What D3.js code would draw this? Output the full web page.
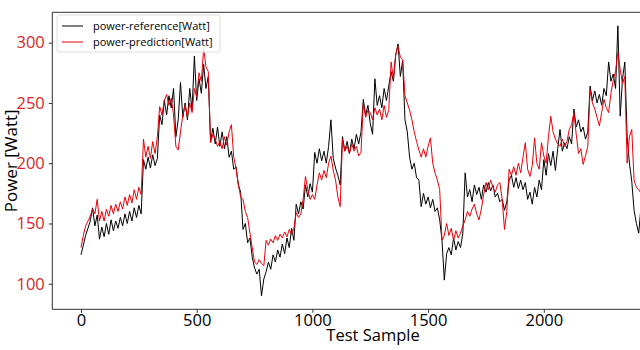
<!DOCTYPE html>
<html>
<head>
<meta charset="utf-8">
<script src="https://cdn.jsdelivr.net/npm/d3@7/dist/d3.min.js"></script>
<style>
  html, body { margin: 0; padding: 0; background: #fff; overflow: hidden; }
  svg { display: block; }
</style>
</head>
<body>
<svg id="chart" width="640" height="350"></svg>
<script>
// Sample index of each stored point (every 10th test sample)
const sampleStep = 10;
const sampleCount = 2481;

// Measured power (reference), Watt
const reference = [
  124,132,140,146,152,163,148,157,137,147,139,150,141,153,144,152,146,155,148,158,
  150,160,152,163,155,165,158,203,195,205,196,207,198,204,240,232,252,240,256,246,
  262,222,236,267,238,250,236,262,244,289,252,270,258,282,262,272,218,229,216,230,
  214,226,212,222,205,210,195,197,182,176,145,150,134,138,122,113,108,112,90,104,
  110,118,112,124,118,128,122,133,125,138,130,146,136,166,158,168,162,182,172,183,
  176,209,200,212,202,210,200,214,236,204,196,190,182,222,210,218,208,220,212,224,
  216,226,253,240,248,233,224,270,248,256,246,262,252,264,276,268,290,299,272,285,
  236,226,205,195,200,188,186,164,175,166,172,163,170,160,163,153,136,103,125,130,
  124,138,128,135,130,142,192,172,178,168,182,174,180,170,182,176,184,177,182,172,
  175,168,170,161,168,186,190,180,188,179,186,178,184,170,176,166,180,172,186,178,
  203,190,208,198,210,194,212,228,210,217,212,222,216,245,230,236,226,230,220,226,
  264,252,260,250,257,248,262,256,284,268,274,262,314,239,270,284,222,200,185,161,
  150,142,164,158,168,160,170,164,168
];

// Model output (prediction), Watt
const prediction = [
  130,140,148,152,156,162,158,170,152,160,152,162,156,165,158,166,160,168,162,172,
  165,174,167,178,170,180,174,220,205,214,204,218,208,222,247,240,252,257,248,254,
  240,214,211,226,240,248,238,250,242,262,255,275,268,295,280,276,217,224,220,214,
  218,212,222,215,226,232,205,196,182,172,170,160,155,142,130,118,116,120,117,115,
  136,132,137,134,140,136,141,138,143,139,145,141,146,159,155,158,170,189,178,170,
  174,170,182,192,186,194,188,200,206,194,186,172,164,220,210,214,208,216,210,214,
  206,209,250,238,244,242,236,246,240,245,236,248,238,244,284,270,290,297,288,286,
  256,250,244,236,226,218,211,205,212,205,214,221,200,192,186,178,136,140,150,140,
  146,136,144,138,142,148,153,160,156,162,166,158,153,162,174,184,178,186,180,176,
  182,184,170,145,160,195,190,197,190,200,192,205,217,195,189,198,221,200,195,217,
  206,200,222,239,226,220,216,214,220,214,218,228,232,242,224,208,212,199,206,214,
  261,250,245,238,231,242,253,246,242,258,269,276,292,278,266,272,200,222,228,186,
  180,178,175,172,176,170,174,168,172
];

const yTicks = [100, 150, 200, 250, 300];
const xTicks = [0, 500, 1000, 1500, 2000];

const seriesNames = ["power-reference[Watt]", "power-prediction[Watt]"];
const seriesColors = ["#000000", "#e8000b"];
const tickRed = "#d62728";

const svg = d3.select("#chart");

// Axes box; the right part runs past the visible frame
const plot = { left: 52.3, top: 12.3, right: 683.6, bottom: 309.3 };

const n = sampleCount - 1;
const x = d3.scaleLinear()
  .domain([-0.05 * n, 1.05 * n])
  .range([plot.left, plot.right]);

const all = reference.concat(prediction);
const yMin = d3.min(all), yMax = d3.max(all), pad = 0.05 * (yMax - yMin);
const y = d3.scaleLinear()
  .domain([yMin - pad, yMax + pad])
  .range([plot.bottom, plot.top]);

svg.append("defs").append("clipPath").attr("id", "plotClip")
  .append("rect")
  .attr("x", plot.left).attr("y", plot.top)
  .attr("width", plot.right - plot.left)
  .attr("height", plot.bottom - plot.top);

const line = d3.line()
  .x((d, i) => x(i * sampleStep))
  .y(d => y(d));

const g = svg.append("g").attr("clip-path", "url(#plotClip)");
[reference, prediction].forEach((s, k) => {
  g.append("path")
    .datum(s)
    .attr("fill", "none")
    .attr("stroke", seriesColors[k])
    .attr("stroke-width", 1)
    .attr("stroke-linejoin", "round")
    .attr("d", line);
});

// Frame
const frame = svg.append("g").attr("stroke", "#333").attr("stroke-width", 1).attr("fill", "none");
frame.append("line").attr("x1", plot.left).attr("x2", plot.left).attr("y1", plot.top).attr("y2", plot.bottom);
frame.append("line").attr("x1", plot.left).attr("x2", plot.right).attr("y1", plot.top).attr("y2", plot.top);
frame.append("line").attr("x1", plot.left).attr("x2", plot.right).attr("y1", plot.bottom).attr("y2", plot.bottom);

// X axis
const xAxis = svg.append("g")
  .attr("transform", `translate(0,${plot.bottom})`)
  .call(d3.axisBottom(x).tickValues(xTicks).tickSize(3.5).tickPadding(1.5).tickFormat(d3.format("d")));
xAxis.select(".domain").remove();
xAxis.selectAll(".tick line").attr("stroke", "#333");
xAxis.selectAll("text")
  .attr("fill", "#000")
  .style("font-family", "'Open Sans', sans-serif")
  .style("font-size", "16.5px");

// Y axis
const yAxis = svg.append("g")
  .attr("transform", `translate(${plot.left},0)`)
  .call(d3.axisLeft(y).tickValues(yTicks).tickSize(3.5).tickPadding(4).tickFormat(d3.format("d")));
yAxis.select(".domain").remove();
yAxis.selectAll(".tick line").attr("stroke", "#333");
yAxis.selectAll("text")
  .attr("fill", tickRed)
  .style("font-family", "'Open Sans', sans-serif")
  .style("font-size", "16.5px");

// Axis titles
svg.append("text")
  .attr("x", 373)
  .attr("y", 341)
  .attr("text-anchor", "middle")
  .style("font-family", "'Open Sans', sans-serif")
  .style("font-size", "16.5px")
  .attr("fill", "#000")
  .text("Test Sample");

svg.append("text")
  .attr("transform", `translate(16.5,${(plot.top + plot.bottom) / 2}) rotate(-90)`)
  .attr("text-anchor", "middle")
  .style("font-family", "'Open Sans', sans-serif")
  .style("font-size", "17px")
  .attr("fill", "#000")
  .text("Power [Watt]");

// Legend
const lg = svg.append("g").attr("transform", "translate(57,15)");
lg.append("rect")
  .attr("width", 163).attr("height", 37).attr("rx", 2)
  .attr("fill", "#fff").attr("fill-opacity", 0.8)
  .attr("stroke", "#ddd").attr("stroke-width", 1);
seriesNames.forEach((name, k) => {
  const yy = 11 + k * 16;
  lg.append("line")
    .attr("x1", 5).attr("x2", 26).attr("y1", yy).attr("y2", yy)
    .attr("stroke", seriesColors[k]).attr("stroke-width", 1);
  lg.append("text")
    .attr("x", 36).attr("y", yy).attr("dy", "0.35em")
    .style("font-family", "'Open Sans', sans-serif")
    .style("font-size", "11px")
    .attr("fill", "#000")
    .text(name);
});
</script>
</body>
</html>
